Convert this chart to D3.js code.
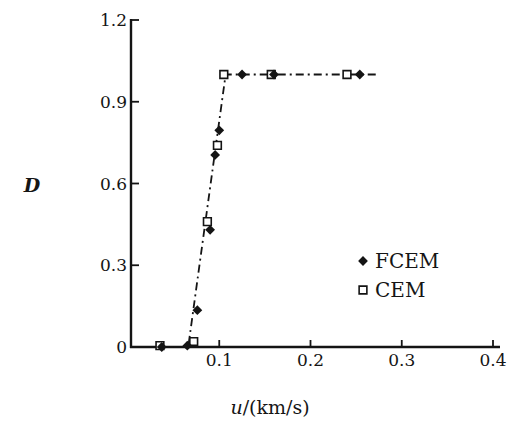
<!DOCTYPE html>
<html lang="en">
<head>
  <meta charset="UTF-8" />
  <title>D vs u</title>
  <script src="https://d3js.org/d3.v7.min.js"></script>
  <style>
    body { margin: 0; background: white; }
    svg { display: block; }
    text { font-family: "DejaVu Serif", "Liberation Serif", serif; fill: #151515; }
  </style>
</head>
<body>
  <svg width="515" height="428"></svg>
  <script>
    // FCEM points (filled diamonds)
    const fcemU = [0.037, 0.065, 0.076, 0.090, 0.0955, 0.100, 0.125, 0.160, 0.254];
    const fcemD = [0.0, 0.005, 0.135, 0.43, 0.705, 0.795, 1.0, 1.0, 1.0];
    // CEM points (open squares)
    const cemU = [0.035, 0.072, 0.087, 0.098, 0.105, 0.157, 0.240];
    const cemD = [0.005, 0.02, 0.46, 0.74, 1.0, 1.0, 1.0];
    // dash-dot trend line
    const lineU = [0.03, 0.066, 0.107, 0.272];
    const lineD = [0.0, 0.0, 1.0, 1.0];

    const xTicks = [0.1, 0.2, 0.3, 0.4];
    const yTicks = [0, 0.3, 0.6, 0.9, 1.2];

    const svg = d3.select("svg");
    const x = d3.scaleLinear().domain([0, 0.4]).range([128, 493]);
    const y = d3.scaleLinear().domain([0, 1.2]).range([347, 20]);

    const ink = "#141414";

    // axes
    svg.append("line")
      .attr("x1", 131).attr("x2", 131).attr("y1", y(1.2) - 1).attr("y2", y(0) + 1)
      .attr("stroke", ink).attr("stroke-width", 2.4);
    svg.append("line")
      .attr("x1", 130).attr("x2", 500).attr("y1", y(0)).attr("y2", y(0))
      .attr("stroke", ink).attr("stroke-width", 2.4);

    // y ticks (inward) + labels
    svg.append("g").selectAll("line").data(yTicks.filter(d => d > 0)).join("line")
      .attr("x1", 131).attr("x2", 139)
      .attr("y1", d => y(d)).attr("y2", d => y(d))
      .attr("stroke", ink).attr("stroke-width", 1.8);
    svg.append("g").selectAll("text").data(yTicks).join("text")
      .attr("x", 127).attr("y", d => y(d) + 6)
      .attr("text-anchor", "end").attr("font-size", 17)
      .text(d => d === 0 ? "0" : d3.format(".1f")(d));

    // x ticks (inward) + labels
    svg.append("g").selectAll("line").data(xTicks).join("line")
      .attr("x1", d => x(d)).attr("x2", d => x(d))
      .attr("y1", y(0)).attr("y2", y(0) - 7)
      .attr("stroke", ink).attr("stroke-width", 1.8);
    svg.append("g").selectAll("text").data(xTicks).join("text")
      .attr("x", d => x(d)).attr("y", 366)
      .attr("text-anchor", "middle").attr("font-size", 17)
      .text(d => d3.format(".1f")(d));

    // axis titles
    svg.append("text")
      .attr("x", 32).attr("y", 192)
      .attr("text-anchor", "middle").attr("font-size", 19)
      .attr("font-style", "italic").attr("font-weight", "bold")
      .text("D");
    const xt = svg.append("text")
      .attr("x", 270).attr("y", 414)
      .attr("text-anchor", "middle").attr("font-size", 19);
    xt.append("tspan").attr("font-style", "italic").text("u");
    xt.append("tspan").text("/(km/s)");

    // trend line
    const lineData = lineU.map((u, i) => [u, lineD[i]]);
    svg.append("path")
      .datum(lineData)
      .attr("d", d3.line().x(d => x(d[0])).y(d => y(d[1])))
      .attr("fill", "none").attr("stroke", ink).attr("stroke-width", 1.8)
      .attr("stroke-dasharray", "8,4,2,4");

    // markers: diamond = square rotated 45 degrees
    const diamond = d3.symbol().type(d3.symbolSquare).size(48);
    const square = d3.symbol().type(d3.symbolSquare).size(60);

    svg.append("g").selectAll("path")
      .data(cemU.map((u, i) => [u, cemD[i]])).join("path")
      .attr("transform", d => `translate(${x(d[0])},${y(d[1])})`)
      .attr("d", square)
      .attr("fill", "white").attr("stroke", ink).attr("stroke-width", 1.6);

    svg.append("g").selectAll("path")
      .data(fcemU.map((u, i) => [u, fcemD[i]])).join("path")
      .attr("transform", d => `translate(${x(d[0])},${y(d[1])}) rotate(45)`)
      .attr("d", diamond)
      .attr("fill", ink);

    // legend
    const legend = svg.append("g");
    legend.append("path").attr("transform", "translate(363,261) rotate(45)").attr("d", diamond).attr("fill", ink);
    legend.append("text").attr("x", 375).attr("y", 268).attr("font-size", 20).text("FCEM");
    legend.append("path").attr("transform", "translate(363,290)").attr("d", square)
      .attr("fill", "white").attr("stroke", ink).attr("stroke-width", 1.6);
    legend.append("text").attr("x", 375).attr("y", 297).attr("font-size", 20).text("CEM");
  </script>
</body>
</html>
